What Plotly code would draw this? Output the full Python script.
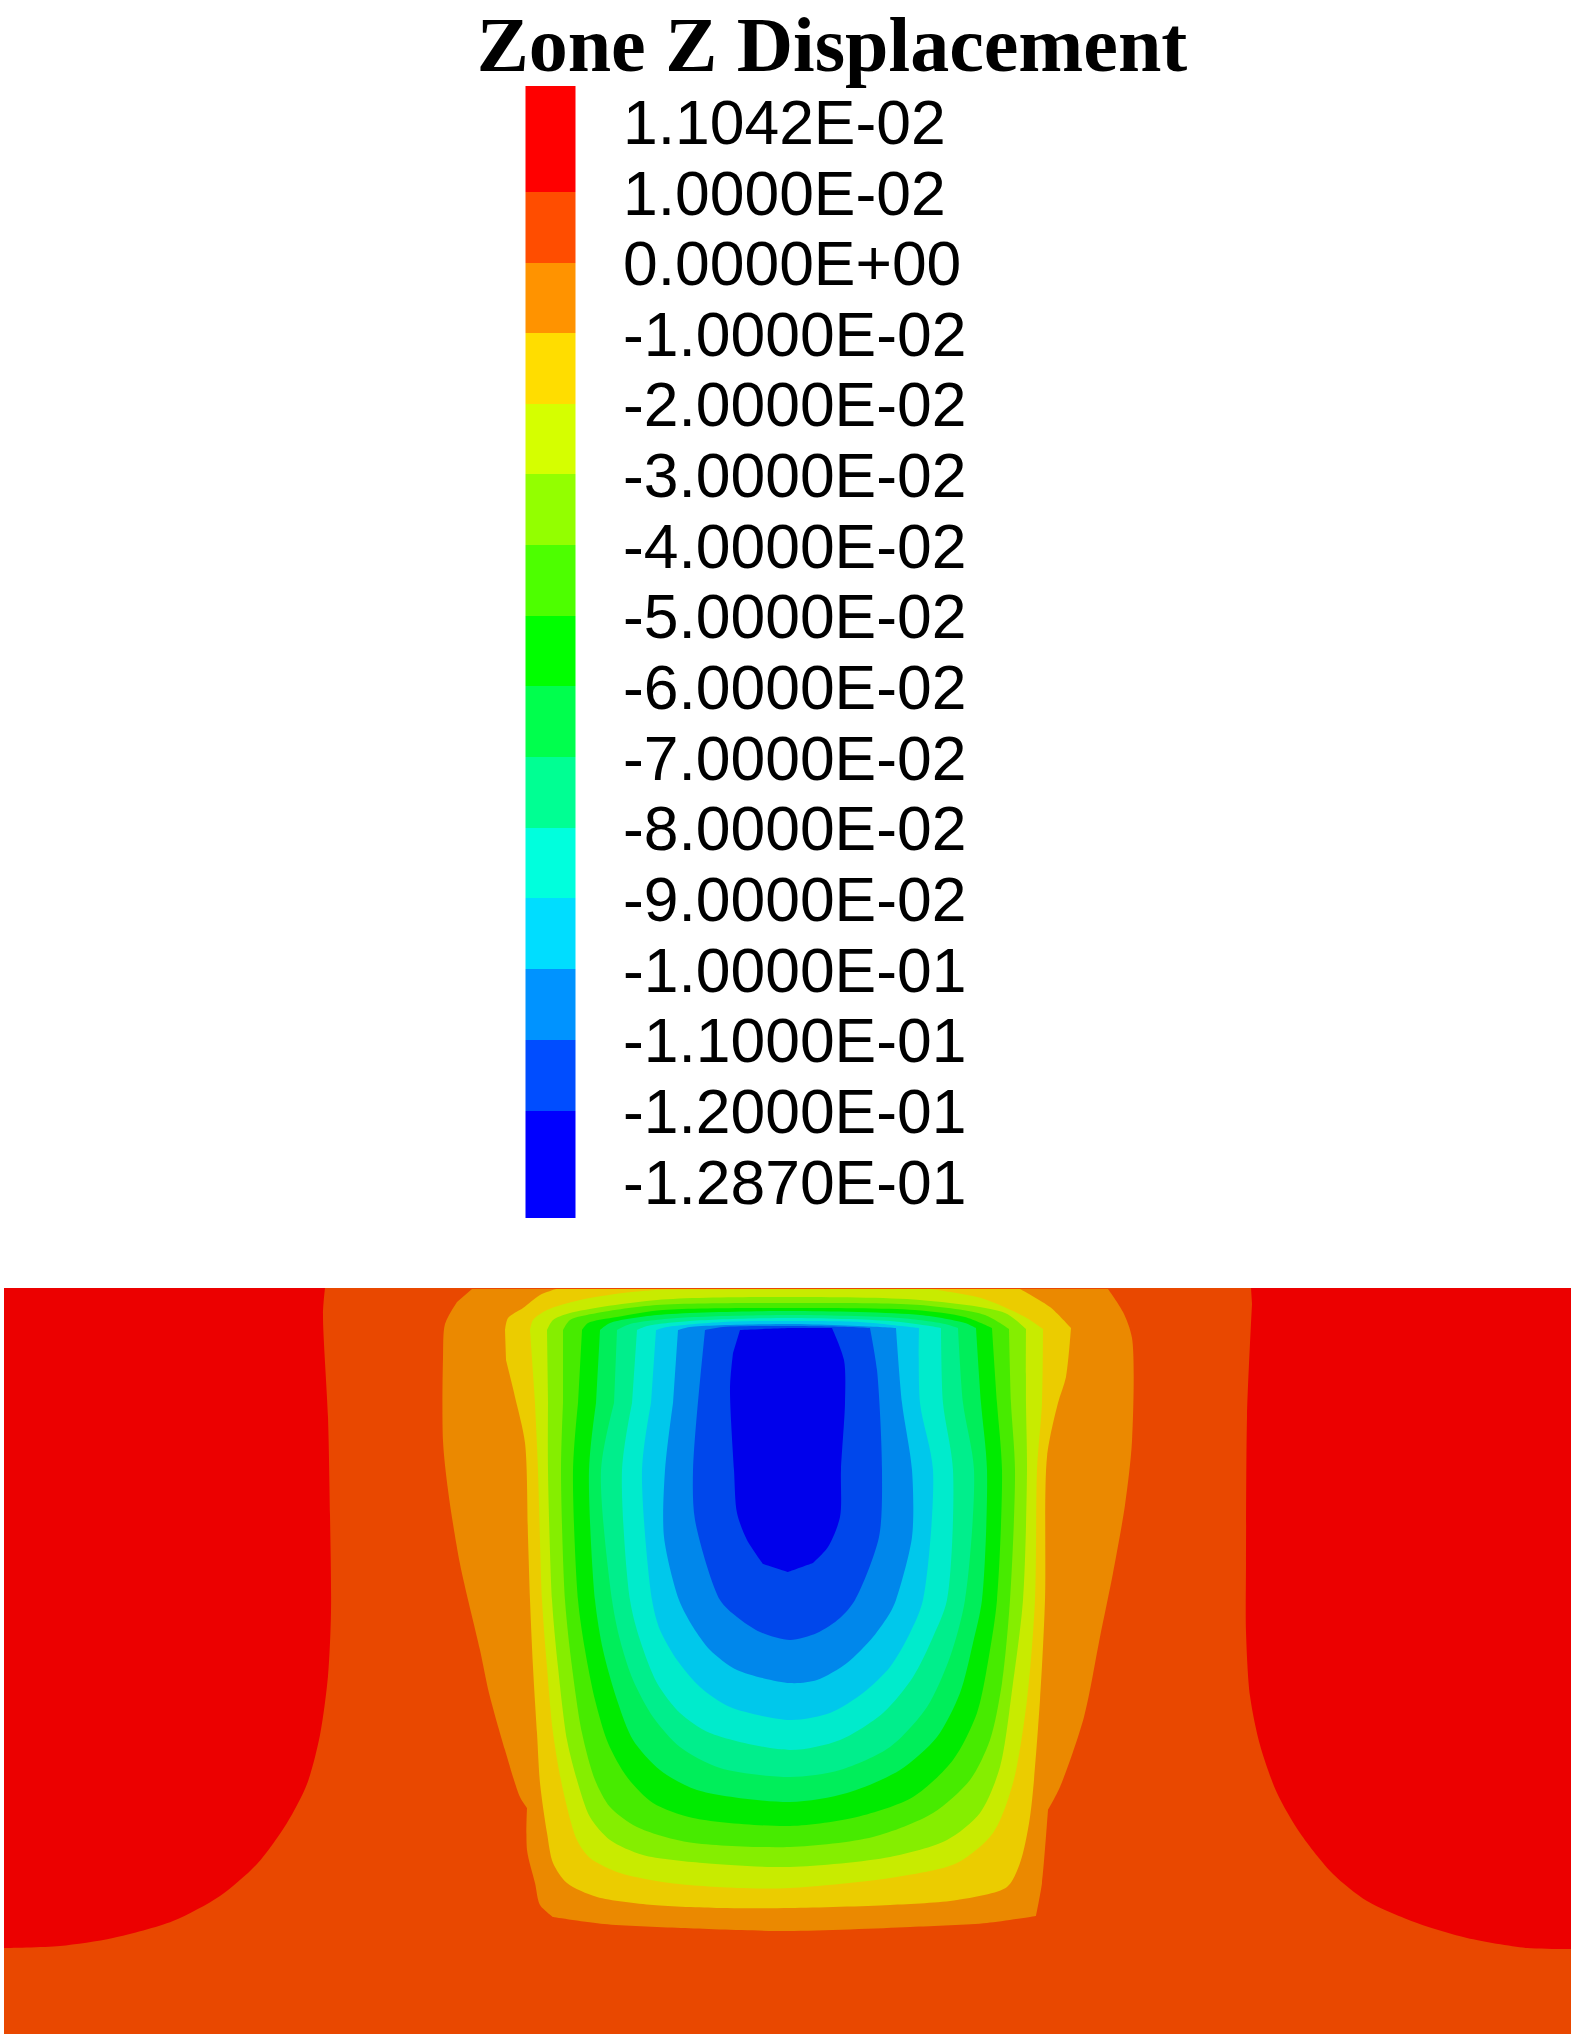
import plotly.graph_objects as go

TITLE = "Zone Z Displacement"
legend_labels = ["1.1042E-02", "1.0000E-02", "0.0000E+00", "-1.0000E-02", "-2.0000E-02", "-3.0000E-02",
                 "-4.0000E-02", "-5.0000E-02", "-6.0000E-02", "-7.0000E-02", "-8.0000E-02", "-9.0000E-02",
                 "-1.0000E-01", "-1.1000E-01", "-1.2000E-01", "-1.2870E-01"]
legend_label_y = [128, 199, 269, 340, 410, 481, 552, 622, 693, 764, 834, 905, 976, 1046, 1117, 1188]
legend_edges = [86, 192, 263, 333, 404, 474, 545, 616, 686, 757, 828, 898, 969, 1040, 1111, 1218]
legend_colors = ["#FF0000", "#FF4D00", "#FF9300", "#FFDD00", "#D5FF00", "#93FF00", "#4DFF00", "#00FF00",
                 "#00FF4D", "#00FF93", "#00FFDD", "#00DDFF", "#0093FF", "#004DFF", "#0000FF"]

# Field outline in picture units
field_x = [4, 1571, 1571, 4]
field_y = [1288, 1288, 2034, 2034]
field_color = "#E94800"

# Isoline outlines, as (x, y); a repeated point marks a sharp corner
red_left = [(4,1288),(4,1288),(325,1288),(325,1288),(323,1314),(328,1417),(330,1515),(331,1612),(328,1676),(320,1735),(307,1784),
            (287,1823),(257,1864),(220,1896),(173,1921),(113,1938),(60,1946),(4,1948),(4,1948)]
red_right = [(1251,1288),(1251,1288),(1571,1288),(1571,1288),(1571,1949),(1571,1949),(1527,1948),(1467,1938),(1417,1923),(1367,1901),(1333,1874),
             (1300,1833),(1277,1793),(1260,1745),(1250,1696),(1246,1632),(1246,1563),(1247,1417),(1250,1343),(1252,1304)]
level_orange = [(472,1289),(472,1289),(1108,1289),(1108,1289),(1123,1312),(1132,1338),(1132,1441),(1125,1505),(1113,1573),(1100,1637),
                (1084,1717),(1060,1787),(1048,1810),(1048,1810),(1042,1883),(1036,1916),(1036,1916),(987,1923),(910,1927),(788,1931),
                (681,1928),(604,1924),(553,1917),(553,1917),(540,1905),(535,1883),(527,1850),(527,1808),(527,1808),(520,1797),(505,1750),(489,1693),
                (480,1650),(460,1564),(448,1490),(443,1441),(443,1358),(445,1324),(457,1302)]
level_yellow = [(505,1330),(508,1318),(523,1308),(540,1295),(556,1289),(556,1289),(1020,1289),(1020,1289),(1050,1307),(1071,1328),(1071,1328),
                (1066,1377),(1058,1403),(1047,1457),(1045,1600),(1040,1700),(1030,1817),(1020,1863),(1007,1887),(957,1900),(890,1905),(790,1908),
                (720,1908),(653,1905),(597,1897),(567,1883),(553,1863),(547,1833),(540,1783),(537,1733),(533,1667),(530,1600),(528,1537),
                (525,1443),(515,1397),(506,1360)]
level_yg = [(530,1330),(530,1330),(533,1320),(547,1310),(580,1300),(623,1293),(655,1290),(655,1290),(930,1289),(930,1289),(981,1298),(1025,1317),
            (1043,1329),(1043,1329),(1042,1403),(1037,1470),(1035,1600),(1027,1700),(1013,1783),(993,1833),(957,1863),(890,1878),(790,1888),
            (737,1888),(670,1883),(620,1873),(590,1858),(577,1840),(563,1790),(553,1733),(547,1667),(542,1600),(538,1470),(535,1403)]
level_lg = [(547,1330),(547,1330),(553,1320),(570,1313),(657,1300),(790,1297),(920,1300),(1005,1313),(1026,1329),(1026,1329),(1026,1403),(1027,1470),
            (1023,1600),(1013,1683),(1000,1767),(980,1813),(947,1840),(890,1857),(790,1867),(703,1863),(643,1855),(610,1840),(590,1817),
            (577,1780),(567,1740),(558,1667),(552,1600),(548,1470),(548,1403)]
level_lg2 = [(563,1330),(563,1330),(570,1320),(597,1313),(657,1305),(790,1303),(920,1305),(985,1315),(1009,1329),(1009,1329),(1011,1403),(1015,1470),
             (1010,1600),(1002,1683),(990,1740),(970,1780),(933,1813),(873,1837),(790,1847),(687,1842),(637,1827),(610,1807),(595,1780),
             (582,1733),(572,1667),(565,1600),(561,1470),(563,1403)]
level_green = [(582,1330),(582,1330),(588,1323),(617,1317),(663,1310),(790,1308),(915,1310),(965,1317),(992,1328),(992,1328),(997,1403),(1002,1470),
               (997,1600),(990,1650),(977,1713),(953,1760),(913,1797),(857,1817),(790,1826),(693,1818),(653,1803),(627,1777),(608,1743),
               (595,1700),(585,1650),(578,1600),(573,1470),(578,1403)]
level_g80 = [(600,1330),(600,1330),(610,1323),(657,1315),(790,1311),(920,1315),(965,1323),(976,1328),(976,1328),(981,1403),(987,1470),
             (982,1600),(973,1643),(960,1693),(937,1737),(900,1770),(847,1793),(790,1802),(697,1790),(660,1770),(633,1740),(617,1700),
             (603,1650),(595,1600),(589,1470),(596,1403)]
level_g150 = [(617,1330),(617,1330),(630,1324),(677,1318),(790,1315),(900,1318),(945,1324),(958,1328),(958,1328),(963,1403),(974,1470),
              (965,1600),(950,1657),(927,1707),(890,1747),(840,1770),(790,1777),(720,1768),(680,1747),(653,1717),(633,1680),(620,1640),
              (612,1600),(601,1470),(614,1403)]
level_g220 = [(637,1330),(637,1330),(647,1326),(690,1321),(790,1318),(890,1321),(930,1326),(941,1328),(941,1328),(943,1403),(953,1470),
              (947,1600),(933,1637),(913,1677),(883,1713),(840,1740),(790,1750),(710,1733),(680,1713),(657,1683),(640,1640),(630,1600),
              (622,1470),(632,1403)]
level_c220 = [(656,1330),(656,1330),(667,1327),(723,1322),(790,1321),(860,1322),(910,1327),(919,1328),(919,1328),(920,1403),(933,1470),
              (923,1600),(910,1633),(890,1667),(863,1693),(830,1713),(790,1720),(730,1707),(700,1687),(677,1660),(660,1630),(652,1600),
              (642,1470),(651,1403)]
level_b150 = [(678,1330),(678,1330),(690,1327),(790,1324),(880,1327),(896,1328),(896,1328),(902,1403),(912,1470),(912,1537),(896,1600),
              (890,1613),(873,1637),(847,1663),(817,1680),(790,1683),(737,1670),(710,1650),(693,1627),(679,1600),(664,1537),(665,1470),(673,1403)]
level_b80 = [(705,1330),(705,1330),(723,1327),(790,1326),(850,1327),(870,1328),(870,1328),(877,1370),(882,1470),(879,1537),(855,1600),
             (840,1618),(817,1633),(790,1640),(760,1632),(737,1617),(720,1600),(695,1520),(693,1470),(701,1370)]
level_b0 = [(740,1330),(740,1330),(790,1328),(832,1328),(832,1328),(844,1360),(845,1403),(841,1470),(840,1517),(828,1547),(813,1563),(813,1563),(788,1572),(788,1572),
            (763,1564),(763,1564),(747,1540),(737,1513),(734,1470),(730,1387),(733,1353)]

field_levels = [
    (red_left, "#EC0000"), (red_right, "#EC0000"), (level_orange, "#EB8900"), (level_yellow, "#EBCC00"),
    (level_yg, "#C8EB00"), (level_lg, "#85EE00"), (level_lg2, "#47EB00"), (level_green, "#00EB00"),
    (level_g80, "#00EE5A"), (level_g150, "#00EE8C"), (level_g220, "#00EBCC"), (level_c220, "#00C8EB"),
    (level_b150, "#0087EB"), (level_b80, "#0047EB"), (level_b0, "#0000EB"),
]

fig = go.Figure()
fig.add_trace(go.Scatter(x=field_x, y=field_y, mode="lines", fill="toself", fillcolor=field_color,
                         line=dict(width=0), hoverinfo="skip", showlegend=False))
for pts, col in field_levels:
    fig.add_trace(go.Scatter(x=[p[0] for p in pts], y=[p[1] for p in pts], mode="lines", fill="toself",
                             fillcolor=col, line=dict(width=0, shape="spline", smoothing=0.8),
                             hoverinfo="skip", showlegend=False))

# Legend swatches
fig.add_trace(go.Bar(x=[550.5] * len(legend_colors),
                     base=legend_edges[:-1],
                     y=[b - a for a, b in zip(legend_edges[:-1], legend_edges[1:])],
                     width=50, marker=dict(color=legend_colors, line=dict(width=0)),
                     hoverinfo="skip", showlegend=False))
fig.add_trace(go.Scatter(x=[623] * len(legend_labels), y=legend_label_y, mode="text", text=legend_labels,
                         textposition="middle right",
                         textfont=dict(family="Liberation Sans, Arial, sans-serif", size=62.4, color="#000000"),
                         hoverinfo="skip", showlegend=False))

fig.update_layout(
    width=1575, height=2037, margin=dict(l=0, r=0, t=0, b=0),
    paper_bgcolor="white", plot_bgcolor="white", barmode="overlay",
    title=dict(text=f"<b>{TITLE}</b>", x=832 / 1575, xanchor="center", y=1 - 44 / 2037, yanchor="middle",
               font=dict(family="Liberation Serif, Times New Roman, serif", size=78, color="#000000")),
    xaxis=dict(range=[0, 1575], visible=False, fixedrange=True),
    yaxis=dict(range=[2037, 0], visible=False, fixedrange=True),
)
fig.write_html("out.html", config={"displayModeBar": False},
               post_script="document.body.style.margin='0';document.body.style.overflow='hidden';")
